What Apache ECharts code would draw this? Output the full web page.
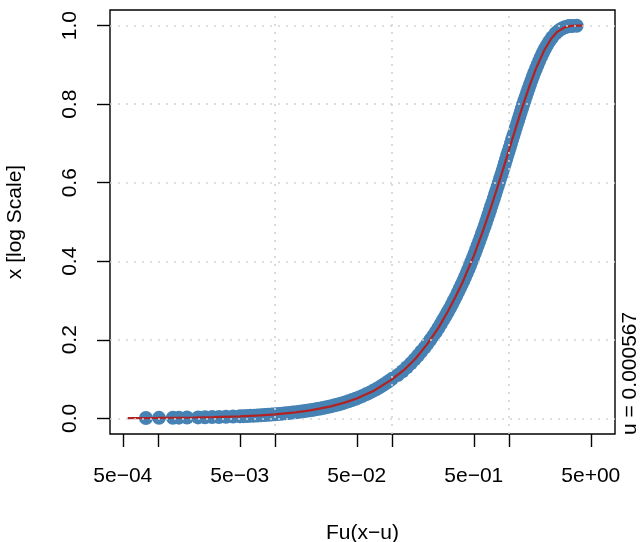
<!DOCTYPE html>
<html>
<head>
<meta charset="utf-8">
<script src="https://cdn.jsdelivr.net/npm/echarts@6/dist/echarts.min.js"></script>
<style>html,body{margin:0;padding:0;background:#fff}#c{width:642px;height:542px}</style>
</head>
<body>
<div id="c"></div>
<script>
// ---- data ----
const xTickValues = [0.0005, 0.001, 0.005, 0.01, 0.05, 0.1, 0.5, 1, 5];
const xLabelValues = [0.0005, 0.005, 0.05, 0.5, 5];
const xTickLabels = ['5e\u221204', '5e\u221203', '5e\u221202', '5e\u221201', '5e+00'];
const xGridValues = [0.001, 0.01, 0.1, 1];
const yTickValues = [0, 0.2, 0.4, 0.6, 0.8, 1.0];
const yTickLabels = ['0.0', '0.2', '0.4', '0.6', '0.8', '1.0'];
const xAxisTitle = 'Fu(x\u2212u)';
const yAxisTitle = 'x [log Scale]';
const sideNote = 'u = 0.000567';

// empirical points (blue)
const pointX = [
  0.000789, 0.00102, 0.00134, 0.00151, 0.00177, 0.00220, 0.00252, 0.00290, 0.00332, 0.00381,
  0.00438, 0.00502, 0.00538, 0.00577, 0.00618, 0.00662, 0.00709, 0.00759, 0.00813, 0.00871,
  0.00933, 0.0100, 0.0107, 0.01148, 0.0123, 0.01318, 0.0141, 0.0151, 0.0162, 0.01734,
  0.0186, 0.0199, 0.0213, 0.02286, 0.0245, 0.02624, 0.0281, 0.03013, 0.0323, 0.03454,
  0.037, 0.03963, 0.0425, 0.0455, 0.0488, 0.05224, 0.056, 0.05998, 0.0643, 0.06887,
  0.0737, 0.07889, 0.0838, 0.08892, 0.0943, 0.1,
  0.112, 0.123, 0.134, 0.145, 0.156, 0.167, 0.178, 0.190, 0.201, 0.213,
  0.225, 0.237, 0.249, 0.261, 0.273, 0.286, 0.299, 0.312, 0.325, 0.338,
  0.352, 0.365, 0.379, 0.393, 0.407, 0.421, 0.436, 0.4506, 0.465, 0.4796,
  0.4943, 0.5092, 0.5244, 0.5398, 0.5553, 0.5711, 0.587, 0.6033, 0.6197, 0.6364,
  0.6534, 0.6706, 0.688, 0.7058, 0.7238, 0.7422, 0.7609, 0.7799, 0.7992, 0.8189,
  0.839, 0.8594, 0.8803, 0.9016, 0.9234, 0.9456, 0.9683, 0.9915, 1.0153, 1.0397,
  1.0646, 1.0903, 1.1166, 1.1437, 1.1716, 1.2003, 1.2299, 1.2605, 1.2922, 1.325,
  1.3591, 1.3946, 1.4315, 1.4702, 1.5107, 1.5532, 1.5981, 1.6457, 1.6964, 1.7506,
  1.8091, 1.8727, 1.9425, 2.0203, 2.1085, 2.2112, 2.3353, 2.4958, 2.6002, 2.7351,
  2.843, 2.994, 3.1541, 3.2887, 3.5, 3.79
];
const pointY = [
  0.0008, 0.0011, 0.0014, 0.0016, 0.0019, 0.0023, 0.0026, 0.0030, 0.0034, 0.0039,
  0.0045, 0.0051, 0.0055, 0.0059, 0.0063, 0.0068, 0.0073, 0.0078, 0.0083, 0.0089,
  0.0096, 0.0103, 0.0110, 0.0118, 0.0126, 0.0135, 0.0145, 0.0155, 0.0166, 0.0178,
  0.0191, 0.0204, 0.0218, 0.0234, 0.0251, 0.0269, 0.0288, 0.0308, 0.0330, 0.0353,
  0.0378, 0.0405, 0.0434, 0.0464, 0.0497, 0.0532, 0.0570, 0.0610, 0.0653, 0.0699,
  0.0747, 0.0798, 0.0847, 0.0897, 0.0950, 0.1005,
  0.11, 0.12, 0.13, 0.14, 0.15, 0.16, 0.17, 0.18, 0.19, 0.20,
  0.21, 0.22, 0.23, 0.24, 0.25, 0.26, 0.27, 0.28, 0.29, 0.30,
  0.31, 0.32, 0.33, 0.34, 0.35, 0.36, 0.37, 0.38, 0.39, 0.40,
  0.41, 0.42, 0.43, 0.44, 0.45, 0.46, 0.47, 0.48, 0.49, 0.50,
  0.51, 0.52, 0.53, 0.54, 0.55, 0.56, 0.57, 0.58, 0.59, 0.60,
  0.61, 0.62, 0.63, 0.64, 0.65, 0.66, 0.67, 0.68, 0.69, 0.70,
  0.71, 0.72, 0.73, 0.74, 0.75, 0.76, 0.77, 0.78, 0.79, 0.80,
  0.81, 0.82, 0.83, 0.84, 0.85, 0.86, 0.87, 0.88, 0.89, 0.90,
  0.91, 0.92, 0.93, 0.94, 0.95, 0.96, 0.97, 0.98, 0.985, 0.99,
  0.993, 0.996, 0.998, 0.999, 0.9995, 1.0
];

// fitted curve (red)
const curveX = [0.00055, 0.001, 0.002, 0.003, 0.005, 0.0075, 0.01, 0.015, 0.02, 0.03,
  0.04, 0.05, 0.07, 0.1, 0.13, 0.16, 0.2, 0.25, 0.3, 0.35,
  0.4, 0.5, 0.6, 0.7, 0.8, 0.9, 1.0, 1.15, 1.3, 1.5,
  1.7, 2.0, 2.3, 2.6, 3.0, 3.4, 3.8, 4.3];
const curveY = [0.00055, 0.001, 0.002, 0.003, 0.005, 0.0075, 0.0101, 0.0152, 0.0203, 0.0305,
  0.0405, 0.0505, 0.0703, 0.099, 0.126, 0.153, 0.189, 0.231, 0.272, 0.31,
  0.346, 0.4138, 0.478, 0.5368, 0.5904, 0.6392, 0.6836, 0.7423, 0.7924, 0.8474,
  0.8907, 0.9375, 0.9674, 0.985, 0.9961, 0.9995, 1.0, 1.0];

// ---- chart ----
const FONT = "'Liberation Sans', Arial, Helvetica, sans-serif";
const points = pointX.map((x, i) => [x, pointY[i]]);
const curve = curveX.map((x, i) => [x, curveY[i]]);

function xLabelFor(v) {
  let best = 0, bd = Infinity;
  xLabelValues.forEach((t, i) => {
    const d = Math.abs(Math.log10(t) - Math.log10(v));
    if (d < bd) { bd = d; best = i; }
  });
  return xTickLabels[best];
}
function yLabelFor(v) {
  let best = 0, bd = Infinity;
  yTickValues.forEach((t, i) => {
    const d = Math.abs(t - v);
    if (d < bd) { bd = d; best = i; }
  });
  return yTickLabels[best];
}

const chart = echarts.init(document.getElementById('c'), null, { renderer: 'canvas' });
chart.setOption({
  animation: false,
  backgroundColor: '#ffffff',
  grid: {
    left: 110, right: 27, top: 10, bottom: 108,
    show: true, borderColor: '#000', borderWidth: 1.4, backgroundColor: 'transparent',
    containLabel: false, outerBoundsMode: 'none'
  },
  xAxis: {
    type: 'log',
    logBase: 10,
    min: 3.888e-4,
    max: 8.054,
    name: xAxisTitle,
    nameLocation: 'middle',
    nameGap: 89,
    nameTextStyle: { fontFamily: FONT, fontSize: 21, color: '#000', verticalAlign: 'top' },
    axisLine: { show: false, onZero: false },
    axisTick: { show: true, length: 13, lineStyle: { color: '#000', width: 1.4 }, customValues: xTickValues },
    axisLabel: {
      show: true, margin: 32, fontFamily: FONT, fontSize: 21, color: '#000',
      customValues: xLabelValues, formatter: (v) => xLabelFor(v),
      showMinLabel: true, showMaxLabel: true, hideOverlap: false
    },
    splitLine: { show: false },
    minorTick: { show: false },
    minorSplitLine: { show: false }
  },
  yAxis: {
    type: 'value',
    min: -0.04,
    max: 1.04,
    name: yAxisTitle,
    nameLocation: 'middle',
    nameGap: 84,
    nameRotate: 90,
    nameTextStyle: { fontFamily: FONT, fontSize: 21, color: '#000' },
    axisLine: { show: false, onZero: false },
    axisTick: { show: true, length: 13, lineStyle: { color: '#000', width: 1.4 }, customValues: yTickValues },
    axisLabel: {
      show: true, margin: 29, rotate: 90, fontFamily: FONT, fontSize: 21, color: '#000',
      customValues: yTickValues, formatter: (v) => yLabelFor(v),
      showMinLabel: true, showMaxLabel: true, hideOverlap: false
    },
    splitLine: { show: false }
  },
  graphic: [{
    type: 'text',
    x: 641,
    y: 435,
    rotation: Math.PI / 2,
    style: {
      text: sideNote, fontFamily: FONT, fontSize: 21, fill: '#000',
      align: 'left', verticalAlign: 'bottom'
    },
    silent: true
  }],
  series: [
    {
      type: 'scatter',
      data: points,
      symbol: 'circle',
      symbolSize: 14,
      itemStyle: { color: '#4682B4', opacity: 1 },
      emphasis: { disabled: true },
      z: 2,
      markLine: {
        silent: true,
        symbol: 'none',
        animation: false,
        z: 5,
        label: { show: false },
        emphasis: { disabled: true },
        lineStyle: { color: '#D3D3D3', type: [2, 6], width: 1.6 },
        data: xGridValues.map(v => ({ xAxis: v })).concat(yTickValues.map(v => ({ yAxis: v })))
      }
    },
    {
      type: 'line',
      data: curve,
      showSymbol: false,
      symbol: 'none',
      smooth: false,
      lineStyle: { color: '#B22222', width: 2.2, type: 'solid' },
      emphasis: { disabled: true },
      z: 3
    }
  ]
});
</script>
</body>
</html>
